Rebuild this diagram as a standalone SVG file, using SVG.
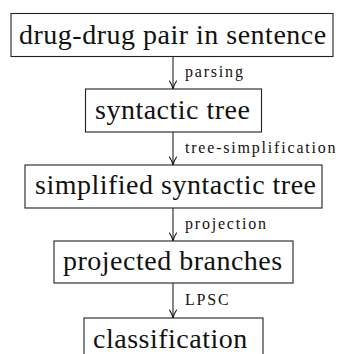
<svg xmlns="http://www.w3.org/2000/svg" width="338" height="354" viewBox="0 0 338 354">
<style>
  .box { fill: #ffffff; stroke: #222222; stroke-width: 1.1; }
  .t { font-size: 28px; letter-spacing: 0.5px; fill: #111111; }
  .lbl { font-size: 16px; letter-spacing: 1.8px; fill: #111111; }
  .edge { stroke: #111111; stroke-width: 1; fill: none; marker-end: url(#arr); }
</style>
<defs>
  <marker id="arr" viewBox="0 0 10 10" refX="9" refY="5" markerWidth="10" markerHeight="10" markerUnits="userSpaceOnUse" orient="auto">
    <path d="M1,1.5 Q5,4.2 9,5 Q5,5.8 1,8.5" fill="none" stroke="#111111" stroke-width="1.1" stroke-linecap="round"/>
  </marker>
</defs>
<rect width="338" height="354" fill="#ffffff"/>
<g id="connectors">
  <line class="edge" x1="173" y1="57" x2="173" y2="89"/>
  <line class="edge" x1="173" y1="132" x2="173" y2="165"/>
  <line class="edge" x1="173" y1="208" x2="173" y2="241"/>
  <line class="edge" x1="173" y1="283" x2="173" y2="318"/>
  <text class="lbl" font-family="Liberation Serif" x="185" y="77">parsing</text>
  <text class="lbl" font-family="Liberation Serif" x="185" y="153">tree-simplification</text>
  <text class="lbl" font-family="Liberation Serif" x="185" y="229">projection</text>
  <text class="lbl" font-family="Liberation Serif" x="185" y="305">LPSC</text>
</g>
<g id="n1">
  <rect class="box" x="11" y="13.5" width="322" height="43"/>
  <text class="t" font-family="Liberation Serif" x="19" y="43.5">drug-drug pair in sentence</text>
</g>
<g id="n2">
  <rect class="box" x="85.5" y="89" width="176" height="43"/>
  <text class="t" font-family="Liberation Serif" x="95" y="118.5">syntactic tree</text>
</g>
<g id="n3">
  <rect class="box" x="25" y="165" width="297" height="43"/>
  <text class="t" font-family="Liberation Serif" x="35" y="194">simplified syntactic tree</text>
</g>
<g id="n4">
  <rect class="box" x="54" y="241" width="239" height="42"/>
  <text class="t" font-family="Liberation Serif" x="63" y="269.5">projected branches</text>
</g>
<g id="n5">
  <rect class="box" x="84" y="318" width="179" height="43"/>
  <text class="t" font-family="Liberation Serif" x="93" y="347.5">classification</text>
</g>
</svg>
